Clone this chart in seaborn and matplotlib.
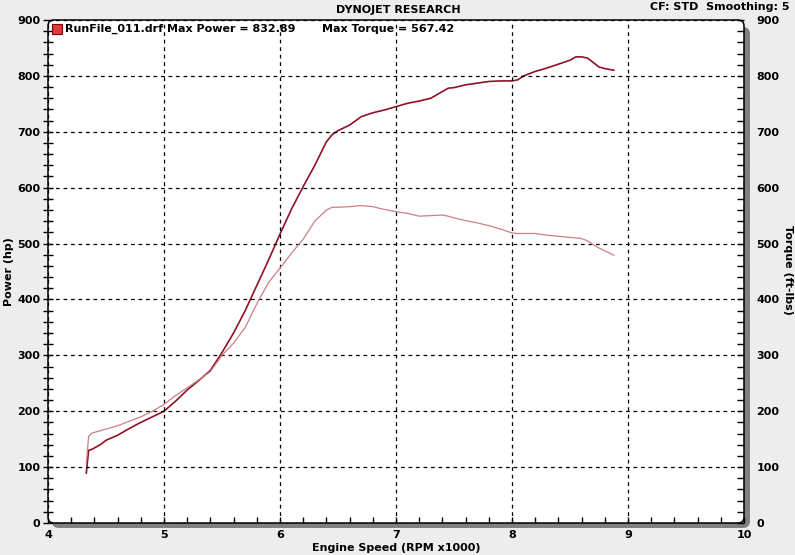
import matplotlib
matplotlib.use("Agg")
import matplotlib.pyplot as plt
import seaborn as sns
import numpy as np
from matplotlib.patches import FancyBboxPatch, Rectangle
from matplotlib.ticker import MultipleLocator

# ---- data ----
rpm = [4.33, 4.35, 4.38, 4.45, 4.5, 4.6, 4.7, 4.8, 4.9, 5.0, 5.1, 5.2, 5.3, 5.4, 5.5,
       5.6, 5.7, 5.8, 5.9, 6.0, 6.1, 6.2, 6.3, 6.4, 6.45, 6.5, 6.6, 6.7, 6.8, 6.9,
       7.0, 7.1, 7.2, 7.3, 7.4, 7.45, 7.5, 7.6, 7.7, 7.8, 7.9, 8.0, 8.05, 8.1, 8.2,
       8.3, 8.4, 8.5, 8.55, 8.6, 8.65, 8.7, 8.75, 8.8, 8.88]
power = [89, 130, 132, 140, 148, 157, 169, 180, 190, 200, 218, 238, 255, 273, 305,
         340, 380, 425, 470, 517, 562, 602, 640, 682, 695, 702, 712, 727, 734, 739,
         745, 751, 755, 760, 772, 778, 779, 784, 787, 790, 791, 791, 793, 800, 808,
         814, 821, 828, 834, 834, 832, 824, 816, 813, 810]
torque = [105, 155, 161, 165, 168, 174, 182, 190, 200, 212, 228, 242, 256, 271, 300,
          322, 350, 392, 430, 456, 483, 508, 540, 560, 565, 565, 566, 568, 566, 561,
          557, 554, 549, 550, 551, 549, 546, 541, 537, 532, 526, 519, 518, 518, 518,
          515, 513, 511, 510, 509, 505, 498, 492, 487, 479]
x_ticks = [4, 5, 6, 7, 8, 9, 10]
y_ticks = [0, 100, 200, 300, 400, 500, 600, 700, 800, 900]

title = "DYNOJET RESEARCH"
cf_text = "CF: STD  Smoothing: 5"
legend_run = "RunFile_011.drf Max Power = 832.89"
legend_torque = "Max Torque = 567.42"

POWER_C = "#8e1224"
TORQUE_C = "#cc7f86"
BG = "#ededed"

sns.set_style("white")
plt.rcParams["font.family"] = ["DejaVu Sans"]
plt.rcParams["font.weight"] = "bold"
plt.rcParams["font.size"] = 8
for k in ("text.color", "axes.labelcolor", "xtick.color", "ytick.color"):
    plt.rcParams[k] = "black"

W, H = 795, 555
fig = plt.figure(figsize=(W / 100, H / 100), dpi=100)
fig.patch.set_facecolor(BG)

# plot area in pixels (from top-left)
L, R, T, B = 48, 744, 20, 523
tr = fig.dpi_scale_trans
shadow = FancyBboxPatch(((L + 4) / 100, (H - B - 5) / 100), (R - L + 2) / 100, (B - T - 2) / 100,
                        boxstyle="round,pad=0,rounding_size=0.07", transform=tr,
                        facecolor="#808080", edgecolor="none", zorder=-3)
frame = FancyBboxPatch((L / 100, (H - B) / 100), (R - L) / 100, (B - T) / 100,
                       boxstyle="round,pad=0,rounding_size=0.06", transform=tr,
                       facecolor="white", edgecolor="black", linewidth=1.1, zorder=-2)
fig.add_artist(shadow)
fig.add_artist(frame)

ax = fig.add_axes([L / W, (H - B) / H, (R - L) / W, (B - T) / H])
ax.set_facecolor("none")
ax2 = ax.twinx()
ax2.set_facecolor("none")

sns.lineplot(x=rpm, y=torque, ax=ax2, color=TORQUE_C, linewidth=0.9,
             estimator=None, sort=False)
sns.lineplot(x=rpm, y=power, ax=ax, color=POWER_C, linewidth=1.2,
             estimator=None, sort=False)

for a in (ax, ax2):
    a.set_xlim(4, 10)
    a.set_ylim(0, 900)
    for s in a.spines.values():
        s.set_visible(False)

ax.set_xticks(x_ticks)
ax.set_yticks(y_ticks)
ax2.set_yticks(y_ticks)
ax.xaxis.set_minor_locator(MultipleLocator(0.2))
ax.yaxis.set_minor_locator(MultipleLocator(20))
ax2.yaxis.set_minor_locator(MultipleLocator(20))

ax.grid(True, which="major", color="black", linestyle=(0, (3, 3)), linewidth=0.9)
ax.set_axisbelow(False)

ax.tick_params(axis="y", which="both", direction="inout", length=7, width=1,
               color="black", pad=2, labelsize=8, left=True, right=False,
               labelcolor="black")
ax.tick_params(axis="x", which="both", direction="in", length=4, width=1,
               color="black", pad=5, labelsize=8, bottom=True, top=False,
               labelcolor="black")
ax2.tick_params(axis="y", which="both", direction="in", length=5, width=1,
                color="black", pad=9, labelsize=8, right=True, left=False,
                labelcolor="black")
for lab in ax.get_xticklabels() + ax.get_yticklabels() + ax2.get_yticklabels():
    lab.set_fontweight("bold")

ax.set_xlabel("Engine Speed (RPM x1000)", fontsize=8, fontweight="bold", labelpad=2,
              color="black")
ax.set_ylabel("Power (hp)", fontsize=8, fontweight="bold", labelpad=2, color="black")
ax2.set_ylabel("")
fig.text(788 / W, 1 - 270 / H, "Torque (ft-lbs)", ha="center", va="center",
         rotation=-90, fontsize=8, fontweight="bold", color="black")

fig.text(398 / W, 1 - 10 / H, title, ha="center", va="center", fontsize=8,
         fontweight="bold")
fig.text(790 / W, 1 - 7 / H, cf_text, ha="right", va="center", fontsize=8,
         fontweight="bold")

# legend marker
fig.add_artist(Rectangle((52 / 100, (H - 34) / 100), 10 / 100, 10 / 100, transform=tr,
                         facecolor="#e23a3a", edgecolor="#7a0a0a", linewidth=0.8,
                         zorder=5))
fig.text(65 / W, 1 - 29 / H, legend_run, ha="left", va="center", fontsize=8,
         fontweight="bold")
fig.text(322 / W, 1 - 29 / H, legend_torque, ha="left", va="center", fontsize=8,
         fontweight="bold")

fig.savefig("out.png", dpi=100, facecolor=BG)
